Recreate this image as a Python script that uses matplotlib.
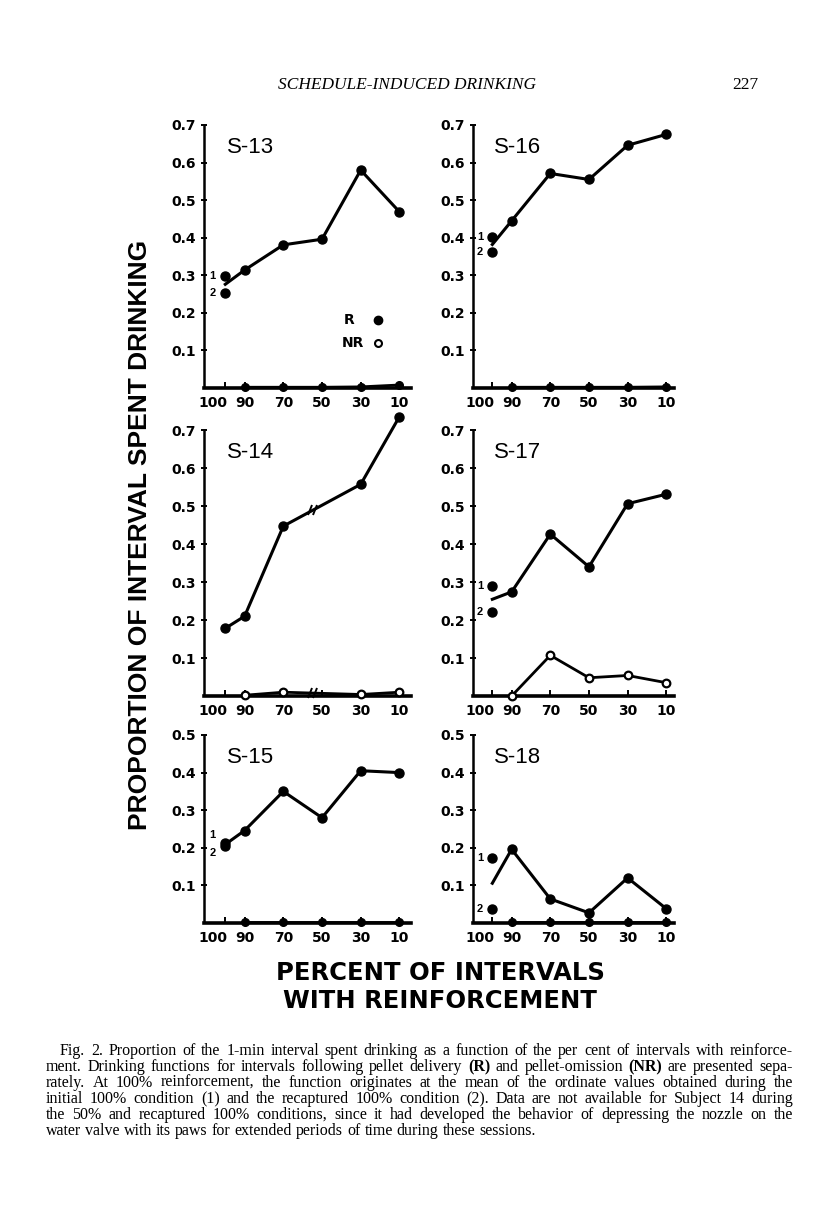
import numpy as np
import matplotlib
matplotlib.use("Agg")
import matplotlib.pyplot as plt
from matplotlib.markers import MarkerStyle
from matplotlib.transforms import Affine2D, ScaledTranslation

nan = np.nan

# --- data ---
pct = [100, 90, 70, 50, 30, 10]
pct_labels = ["100", "90", "70", "50", "30", "10"]

# R = after pellet delivery, values at 90..10 (100% point is the mean of 1 and 2)
s13_r = [0.314, 0.381, 0.396, 0.580, 0.469]
s13_nr = [0.002, 0.002, 0.002, 0.003, 0.008]
s13_first, s13_again = 0.298, 0.254

s16_r = [0.445, 0.571, 0.555, 0.646, 0.675]
s16_nr = [0.002, 0.002, 0.002, 0.002, 0.003]
s16_first, s16_again = 0.401, 0.363

# subject 14: no 50% data and no recaptured 100% condition
s14_r = [0.178, 0.210, 0.447, nan, 0.557, 0.735]
s14_nr = [nan, 0.002, 0.010, nan, 0.004, 0.010]

s17_r = [0.274, 0.426, 0.340, 0.506, 0.531]
s17_nr = [0.0, 0.107, 0.048, 0.054, 0.035]
s17_first, s17_again = 0.289, 0.220

s15_r = [0.246, 0.350, 0.280, 0.405, 0.400]
s15_nr = [0.002, 0.002, 0.002, 0.002, 0.002]
s15_first, s15_again = 0.213, 0.205

s18_r = [0.196, 0.064, 0.027, 0.120, 0.038]
s18_nr = [0.002, 0.002, 0.002, 0.002, 0.002]
s18_first, s18_again = 0.174, 0.0375

W, H = 816, 1207
fig = plt.figure(figsize=(W / 100, H / 100), dpi=100)
fig.patch.set_facecolor("white")

SANS = "Liberation Sans"
BOLD = "DejaVu Sans"
SERIF = "Liberation Serif"


def px_axes(l, t, r, b):
    return fig.add_axes([l / W, 1 - b / H, (r - l) / W, (b - t) / H])


def panel(box, xlim, ymax, name, r, nr, first=None, again=None,
          nr_open=False, break_at=None, num_dy=(0, 0)):
    ax = px_axes(*box)
    ax.set_xlim(*xlim)
    ax.set_ylim(0, ymax)
    x = np.array(pct, float)

    # R function; with 1/2 points it starts at their mean
    if first is not None:
        ry = np.array([np.mean([first, again])] + list(r), float)
    else:
        ry = np.array(r, float)
    ok = ~np.isnan(ry)
    ax.plot(x[ok], ry[ok], color="black", lw=2.2, clip_on=False, zorder=3)
    mk = ok.copy()
    if first is not None:
        mk[0] = False
    ax.plot(x[mk], ry[mk], "o", color="black", ms=6.5, clip_on=False, zorder=4)
    if first is not None:
        ax.plot([x[0], x[0]], [first, again], "o", color="black", ms=6.5,
                clip_on=False, zorder=4)
        ax.annotate("1", (x[0], first), xytext=(-9, num_dy[0]), textcoords="offset points",
                    ha="center", va="center", fontsize=8, fontweight="bold", family=SANS)
        ax.annotate("2", (x[0], again), xytext=(-9, num_dy[1]), textcoords="offset points",
                    ha="center", va="center", fontsize=8, fontweight="bold", family=SANS)

    # NR function
    ny = np.array(nr, float)
    if len(ny) < len(x):
        ny = np.array([nan] * (len(x) - len(ny)) + list(ny))
    ok = ~np.isnan(ny)
    ax.plot(x[ok], ny[ok], color="black", lw=2.0, clip_on=False, zorder=3)
    if nr_open:
        ax.plot(x[ok], ny[ok], "o", mfc="white", mec="black", mew=1.6, ms=5.5,
                clip_on=False, zorder=4)
    else:
        ax.plot(x[ok], ny[ok], "o", color="black", ms=5.5, clip_on=False, zorder=4)

    if break_at is not None:
        mark = MarkerStyle("|", transform=Affine2D().rotate_deg(-25))
        for series in (ry, ny):
            good = ~np.isnan(series)
            yb = np.interp(break_at, x[good][::-1], series[good][::-1])
            for dx in (-1.2, 1.2):
                ax.plot(break_at + dx, yb, marker=mark, color="black", ms=8,
                        mew=1.4, zorder=5, clip_on=False)

    ax.text(99, ymax - 0.06, name, fontsize=16, family=SANS, va="center", ha="left")

    for s in ("top", "right"):
        ax.spines[s].set_visible(False)
    ax.spines["left"].set_linewidth(1.8)
    ax.spines["bottom"].set_linewidth(2.6)
    ax.spines["left"].set_capstyle("butt")

    n = int(round(ymax * 10))
    ax.set_yticks(np.arange(1, n + 1) / 10)
    ax.set_yticklabels([f"{v / 10:.1f}" for v in range(1, n + 1)])
    ax.set_xticks(pct)
    ax.set_xticklabels(pct_labels)
    ax.tick_params(axis="y", direction="inout", length=5, width=1.4, pad=3, labelsize=10)
    ax.tick_params(axis="x", direction="in", length=4, width=1.4, pad=6, labelsize=10)
    for lab in ax.get_xticklabels() + ax.get_yticklabels():
        lab.set_fontweight("bold")
        lab.set_family(BOLD)
    first_lab = ax.get_xticklabels()[0]
    first_lab.set_transform(first_lab.get_transform() +
                            ScaledTranslation(-9 / 72, 0, fig.dpi_scale_trans))
    return ax


LEFT = (204, 411)
RIGHT = (473, 674)
ROWS = [(125, 388), (430, 696), (735, 923)]
XL_LEFT = (111, 4)
XL_RIGHT = (110, 6)

ax13 = panel((LEFT[0], ROWS[0][0], LEFT[1], ROWS[0][1]), XL_LEFT, 0.7, "S-13",
             s13_r, s13_nr, s13_first, s13_again)
panel((RIGHT[0], ROWS[0][0], RIGHT[1], ROWS[0][1]), XL_RIGHT, 0.7, "S-16",
      s16_r, s16_nr, s16_first, s16_again)
panel((LEFT[0], ROWS[1][0], LEFT[1], ROWS[1][1]), XL_LEFT, 0.7, "S-14",
      s14_r, s14_nr, nr_open=True, break_at=55)
panel((RIGHT[0], ROWS[1][0], RIGHT[1], ROWS[1][1]), XL_RIGHT, 0.7, "S-17",
      s17_r, s17_nr, s17_first, s17_again, nr_open=True)
panel((LEFT[0], ROWS[2][0], LEFT[1], ROWS[2][1]), XL_LEFT, 0.5, "S-15",
      s15_r, s15_nr, s15_first, s15_again, num_dy=(6, -5))
panel((RIGHT[0], ROWS[2][0], RIGHT[1], ROWS[2][1]), XL_RIGHT, 0.5, "S-18",
      s18_r, s18_nr, s18_first, s18_again)

# key in S-13
ax13.text(36, 0.18, "R", fontsize=10, fontweight="bold", family=BOLD, ha="center", va="center")
ax13.plot(21, 0.18, "o", color="black", ms=6)
ax13.text(34, 0.12, "NR", fontsize=10, fontweight="bold", family=BOLD, ha="center", va="center")
ax13.plot(21, 0.12, "o", mfc="white", mec="black", mew=1.5, ms=5)

# big axis titles
fig.text(140 / W, 1 - 535 / H, "PROPORTION OF INTERVAL SPENT DRINKING", rotation=90,
         fontsize=19, fontweight="bold", family=SANS, ha="center", va="center")
fig.text(440 / W, 1 - 973 / H, "PERCENT OF INTERVALS", fontsize=17.5,
         fontweight="bold", family=BOLD, ha="center", va="center")
fig.text(440 / W, 1 - 1001 / H, "WITH REINFORCEMENT", fontsize=17.5,
         fontweight="bold", family=BOLD, ha="center", va="center")

# running head
fig.text(407 / W, 1 - 85 / H, "SCHEDULE-INDUCED DRINKING", fontsize=12.5,
         style="italic", family=SERIF, ha="center", va="center")
fig.text(745 / W, 1 - 85 / H, "227", fontsize=12.5, family=SERIF, ha="center", va="center")

# caption, justified word by word
caption = [
    "Fig. 2. Proportion of the 1-min interval spent drinking as a function of the per cent of intervals with reinforce-",
    "ment. Drinking functions for intervals following pellet delivery (R) and pellet-omission (NR) are presented sepa-",
    "rately. At 100% reinforcement, the function originates at the mean of the ordinate values obtained during the",
    "initial 100% condition (1) and the recaptured 100% condition (2). Data are not available for Subject 14 during",
    "the 50% and recaptured 100% conditions, since it had developed the behavior of depressing the nozzle on the",
    "water valve with its paws for extended periods of time during these sessions.",
]
renderer = fig.canvas.get_renderer()
for i, line in enumerate(caption):
    y = 1 - (1051 + 16 * i) / H
    x0 = 60 if i == 0 else 46
    x1 = 793
    words = line.split(" ")
    texts = []
    for w in words:
        bold = w in ("(R)", "(NR)")
        texts.append(fig.text(0, y, w, fontsize=11.5, family=SERIF, va="center",
                              fontweight="bold" if bold else "normal"))
    widths = [t.get_window_extent(renderer).width for t in texts]
    if i < len(caption) - 1:
        gap = (x1 - x0 - sum(widths)) / (len(words) - 1)
    else:
        gap = 4.0
    x = x0
    for t, w in zip(texts, widths):
        t.set_x(x / W)
        x += w + gap

fig.savefig("out.png", dpi=100)
